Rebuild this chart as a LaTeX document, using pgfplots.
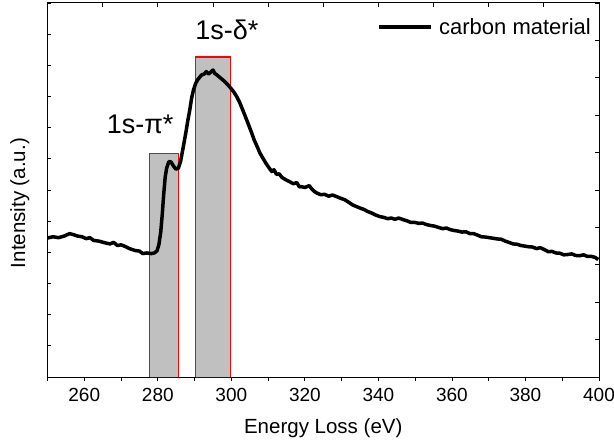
\documentclass[border=0pt]{standalone}
\usepackage{fontspec}
\setmainfont{Liberation Sans}
\usepackage{pgfplots}
\pgfplotsset{compat=1.18}
\definecolor{boxgray}{HTML}{C0C0C0}

\begin{document}
\begin{tikzpicture}
\pgfplotsset{
  frame/.style={
    width=551.5bp, height=374bp, scale only axis,
    xmin=250, xmax=400, ymin=0, ymax=12,
    axis line style={line width=1bp},
    every tick/.style={black, line width=0.8bp},
    major tick length=4bp, minor tick length=4bp,
  }
}
% top and right ticks (different spacing in the original)
\begin{axis}[frame,
    ymax=10,
    xtick={250,265,...,400}, xticklabels={}, xtick pos=upper,
    ytick={0,1,...,10}, yticklabels={}, ytick pos=right,
    tick align=inside,
]
\end{axis}
\begin{axis}[frame,
    xtick={260,280,...,400}, minor xtick={250,270,...,390},
    xtick pos=lower,
    x tick label style={font=\fontsize{19bp}{21bp}\selectfont, yshift=-4bp},
    /pgf/number format/assume math mode=true,
    xtick align=outside,
    ytick={0,1,...,12}, yticklabels={}, ytick pos=left, ytick align=inside,
    xlabel={Energy Loss (eV)},
    ylabel={Intensity (a.u.)},
    label style={font=\fontsize{20.5bp}{22bp}\selectfont},
    xlabel style={at={(axis description cs:0.5,-0.136)}, anchor=center},
    ylabel style={at={(axis description cs:-0.05,0.465)}, anchor=center},
    legend style={draw=none, fill=none, at={(axis description cs:0.9855,0.936)},
      anchor=east, inner sep=0pt, column sep=6bp,
      nodes={inner sep=0pt},
      font=\fontsize{22bp}{24bp}\selectfont},
    legend image code/.code={\draw[#1] (0bp,0bp) -- (52bp,0bp);},
]
% shaded windows of the two edges: fill first, red outline on top
\addplot[draw=none, fill=boxgray, forget plot]
  coordinates {(277.8,0) (277.8,7.18) (285.6,7.18) (285.6,0)} \closedcycle;
\addplot[draw=none, fill=boxgray, forget plot]
  coordinates {(290.2,0) (290.2,10.27) (299.7,10.27) (299.7,0)} \closedcycle;
\addplot[red, line width=1.2bp, forget plot]
  coordinates {(277.8,0) (277.8,7.18) (285.6,7.18) (285.6,0)};
\addplot[red, line width=1.2bp, forget plot]
  coordinates {(290.2,0) (290.2,10.27) (299.7,10.27) (299.7,0)};

\addplot[black, line width=3.5bp, line join=round] coordinates {
(250,4.46) (251.5,4.50) (253,4.47) (254.5,4.52) (256,4.60) (257,4.57) (258.2,4.52)
(259.4,4.50) (260.5,4.44) (261.5,4.47) (262.6,4.38) (264,4.36) (265.8,4.30) (267,4.27)
(268,4.32) (269,4.22) (270,4.24) (271.1,4.19) (272.3,4.12) (273.8,4.06) (275,4.04)
(275.9,3.96) (277,3.98) (278.2,3.96) (279.1,3.98) (279.8,4.05) (280.3,4.25) (280.8,4.65)
(281.2,5.2) (281.6,5.85) (282.0,6.4) (282.4,6.7) (283.0,6.91) (283.6,6.90) (284.2,6.78)
(284.9,6.67) (285.6,6.70) (286.2,6.92) (286.8,7.3) (287.6,7.82) (288.2,8.25) (288.7,8.57)
(289.2,8.95) (289.7,9.21) (290.3,9.42) (290.8,9.53) (291.4,9.62) (291.9,9.69) (292.6,9.72)
(293.2,9.80) (293.8,9.72) (294.4,9.78) (295.0,9.85) (295.5,9.74) (296.2,9.68) (296.7,9.63)
(297.5,9.55) (298.3,9.47) (299.1,9.37) (299.9,9.26) (300.7,9.14) (301.5,8.99) (302.3,8.80)
(303.1,8.57) (303.9,8.33) (304.7,8.09) (305.5,7.84) (306.2,7.61) (307.0,7.40) (307.8,7.18)
(308.6,7.02) (309.4,6.86) (310.2,6.72) (311.0,6.59) (311.6,6.65) (312.3,6.50) (313.0,6.52)
(313.8,6.40) (314.8,6.33) (315.8,6.27) (316.9,6.20) (317.8,6.24) (318.5,6.10) (319.0,6.11)
(320.0,6.08) (321.2,6.14) (321.7,6.06) (322.5,5.96) (323.3,5.90) (324.3,5.85) (325.4,5.86)
(326.5,5.80) (327.5,5.84) (328.6,5.79) (329.6,5.74) (330.8,5.69) (332,5.60) (333,5.52)
(334.0,5.47) (335,5.42) (336,5.38) (337.1,5.31) (338.2,5.26) (339.2,5.20) (340.3,5.15)
(341.5,5.12) (342.5,5.08) (343.5,5.10) (344.5,5.06) (345.5,5.10) (346.7,5.05) (347.8,5.01)
(348.8,4.96) (349.9,4.96) (351,4.93) (352,4.94) (353.1,4.89) (354.2,4.86) (355.3,4.84)
(356.3,4.80) (357.5,4.76) (358.5,4.78) (359.5,4.73) (360.6,4.70) (361.7,4.68) (362.7,4.65)
(363.8,4.66) (364.9,4.60) (365.9,4.60) (367,4.55) (368,4.50) (369.1,4.49) (370.2,4.47)
(371.3,4.45) (372.3,4.43) (373.4,4.42) (374.5,4.36) (375.5,4.32) (376.6,4.27) (377.7,4.26)
(378.7,4.22) (379.8,4.20) (380.8,4.18) (381.9,4.17) (383,4.12) (384,4.15) (385.1,4.09)
(386.2,4.02) (387.2,4.03) (388.3,3.98) (389.4,3.97) (390.4,3.92) (391.5,3.93) (392.6,3.95)
(393.6,3.90) (394.7,3.89) (395.8,3.92) (396.8,3.87) (397.9,3.87) (398.9,3.84) (399.8,3.77)
};
\addlegendentry{carbon material}

\node[font=\fontsize{27bp}{29bp}\selectfont] at (axis cs:298.8,11.13) {1s-δ*};
\node[font=\fontsize{27bp}{29bp}\selectfont] at (axis cs:275.2,8.12) {1s-π*};

\coordinate (sw) at (rel axis cs:0,0);
\coordinate (ne) at (rel axis cs:1,1);
\end{axis}
\pgfresetboundingbox
\path[use as bounding box] ([shift={(-47.5bp,-68bp)}]sw) rectangle ([shift={(15bp,3bp)}]ne);
\end{tikzpicture}
\end{document}
